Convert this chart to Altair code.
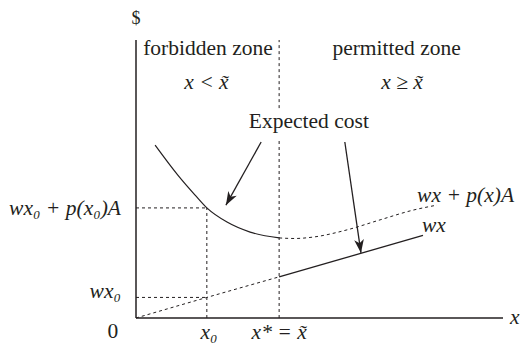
import math
import altair as alt
import pandas as pd

# ---------------- data ----------------
# expected cost curve wx + p(x)A : solid part (forbidden zone) and dotted part
curve_solid_x = [5.2, 11.4, 16.1, 19.3, 24.8, 31.1, 39.0]
curve_solid_y = [62.2, 51.4, 44.2, 39.6, 34.5, 30.9, 28.8]
curve_dot_x = [39.0, 43.3, 48.2, 57.5, 66.5, 75.5, 82.0]
curve_dot_y = [28.8, 28.6, 29.1, 31.7, 35.3, 38.8, 40.6]

# wx line: dashed part then solid part
wx_dash_x = [0.0, 19.3, 39.0]
wx_dash_y = [0.0, 7.4, 14.8]
wx_solid_x = [39.0, 78.2]
wx_solid_y = [14.8, 29.7]

x0 = 19.3
x_star = 39.0
wx0 = 7.4
cost_x0 = 39.6
axis_max = 100.0
gap_lo, gap_hi = 64.7, 75.5

# arrows (start -> tip)
arrow_x1 = [34.1, 56.9]
arrow_y1 = [63.3, 63.3]
arrow_x2 = [24.5, 61.3]
arrow_y2 = [40.6, 23.4]

# text labels
word_labels = ["forbidden zone", "permitted zone", "Expected cost", "0"]
word_x = [19.6, 71.0, 47.1, -6.3]
word_y = [94.6, 94.6, 68.3, -7.2]

dollar_label = ["$"]
dollar_x = [0.0]
dollar_y = [105.6]

math_c_labels = ["x < x\u0303", "x \u2265 x\u0303", "x\u2080", "x* = x\u0303"]
math_c_x = [19.2, 72.5, 19.9, 39.0]
math_c_y = [82.4, 82.4, -7.6, -7.6]

math_l_labels = ["wx + p(x)A", "wx", "x"]
math_l_x = [76.6, 77.9, 101.9]
math_l_y = [41.7, 30.9, -2.2]

math_r_labels = ["wx\u2080 + p(x\u2080)A", "wx\u2080"]
math_r_x = [-4.1, -4.1]
math_r_y = [37.1, 7.2]

# ---------------- chart ----------------
W, H = 367, 278
INK = "#231f20"
FONT = "Liberation Serif"
xs = alt.Scale(domain=[0, 100], nice=False, zero=False)
ys = alt.Scale(domain=[0, 100], nice=False, zero=False)


def X(f="x"):
    return alt.X(f + ":Q", scale=xs, axis=None)


def Y(f="y"):
    return alt.Y(f + ":Q", scale=ys, axis=None)


def curve(xv, yv, dash=None, width=1.2):
    df = pd.DataFrame({"x": xv, "y": yv, "o": list(range(len(xv)))})
    kw = dict(color=INK, strokeWidth=width, interpolate="monotone")
    if dash:
        kw["strokeDash"] = dash
    return alt.Chart(df).mark_line(**kw).encode(x=X(), y=Y(), order="o:Q")


def segs(x1, y1, x2, y2, dash=None, width=1.0):
    df = pd.DataFrame({"x": x1, "y": y1, "x2": x2, "y2": y2})
    kw = dict(color=INK, strokeWidth=width)
    if dash:
        kw["strokeDash"] = dash
    return alt.Chart(df).mark_rule(**kw).encode(
        x=X(), y=Y(), x2="x2:Q", y2="y2:Q")


def texts(labels, xv, yv, align, italic, size=21.5):
    df = pd.DataFrame({"t": labels, "x": xv, "y": yv})
    kw = dict(align=align, baseline="alphabetic", font=FONT, fontSize=size, color=INK)
    if italic:
        kw["fontStyle"] = "italic"
    return alt.Chart(df).mark_text(**kw).encode(x=X(), y=Y(), text="t:N")


DOT = [3, 3]

axes = segs([0, 0], [0, 0], [axis_max, 0], [0, axis_max], width=1.5)
guides = segs(
    [x0, 0, 0, x_star, x_star],
    [0, cost_x0, wx0, 0, gap_hi],
    [x0, x0, x0, x_star, x_star],
    [cost_x0, cost_x0, wx0, gap_lo, axis_max],
    dash=DOT, width=1.0)

arrow_lines = segs(arrow_x1, arrow_y1, arrow_x2, arrow_y2, width=1.3)

# arrow heads: rotate to the pixel direction of each arrow
sx, sy = W / 100.0, H / 100.0
angles = []
for a, b, c, d in zip(arrow_x1, arrow_y1, arrow_x2, arrow_y2):
    dx = (c - a) * sx
    dy = -(d - b) * sy
    angles.append(math.degrees(math.atan2(dx, -dy)) % 360)
head_df = pd.DataFrame({"x": arrow_x2, "y": arrow_y2, "a": angles})
heads = alt.Chart(head_df).mark_point(
    shape="M0,0L-0.36,1L0,0.72L0.36,1Z", size=729, filled=True,
    color=INK, opacity=1, strokeWidth=0
).encode(x=X(), y=Y(), angle=alt.Angle("a:Q", scale=None))

chart = alt.layer(
    axes,
    guides,
    curve(wx_dash_x, wx_dash_y, dash=DOT, width=1.0),
    curve(wx_solid_x, wx_solid_y, width=1.3),
    curve(curve_solid_x, curve_solid_y, width=1.2),
    curve(curve_dot_x, curve_dot_y, dash=DOT, width=1.0),
    arrow_lines,
    heads,
    texts(word_labels, word_x, word_y, "center", False),
    texts(dollar_label, dollar_x, dollar_y, "center", False, size=18),
    texts(math_c_labels, math_c_x, math_c_y, "center", True),
    texts(math_l_labels, math_l_x, math_l_y, "left", True),
    texts(math_r_labels, math_r_x, math_r_y, "right", True),
).properties(
    width=W, height=H,
    padding={"left": 128, "top": 32, "right": 18, "bottom": 28},
    autosize=alt.AutoSizeParams(type="none"),
    background="white",
).configure_view(stroke=None)

chart.save("out.html", embed_options={"renderer": "svg", "actions": False})
